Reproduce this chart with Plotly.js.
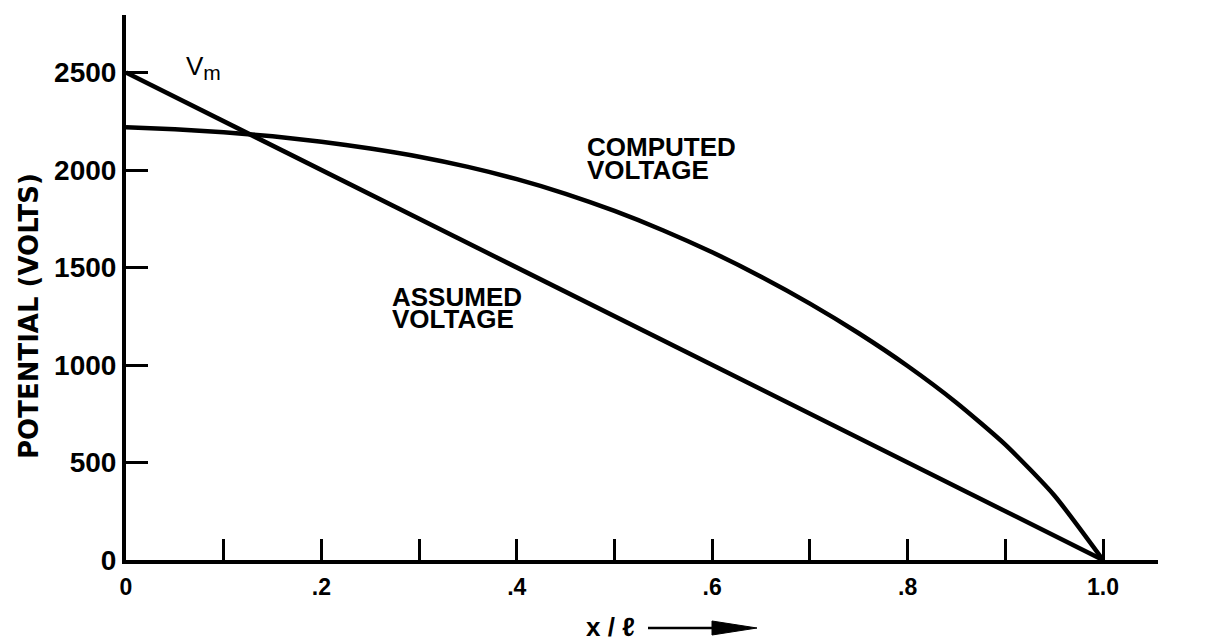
<!DOCTYPE html>
<html>
<head>
<meta charset="utf-8">
<script src="https://cdn.plot.ly/plotly-3.0.1.min.js"></script>
<style>
  html, body { margin: 0; padding: 0; background: #ffffff; }
  #chart { width: 1216px; height: 641px; }
</style>
</head>
<body>
<div id="chart"></div>
<script>
// x / l positions
const assumedX = [0, 1.0];
const assumedV = [2500, 0];

const computedX = [0, 0.05, 0.1, 0.15, 0.2, 0.25, 0.3, 0.35, 0.4, 0.45, 0.5, 0.55, 0.6, 0.65, 0.7, 0.75, 0.8, 0.85, 0.9, 0.95, 1.0];
const computedV = [2219, 2209, 2194, 2173, 2145, 2110, 2068, 2016, 1953, 1878, 1790, 1690, 1578, 1453, 1315, 1163, 995, 807, 592, 332, 0];

const xTickVals = [0, 0.2, 0.4, 0.6, 0.8, 1.0];
const xTickText = ['0', '.2', '.4', '.6', '.8', '1.0'];
const yTickVals = [0, 500, 1000, 1500, 2000, 2500];
const yTickText = ['0', '500', '1000', '1500', '2000', '2500'];

const FONT = 'Liberation Sans, Arial, Helvetica, sans-serif';
const WIDE = 'DejaVu Sans, Liberation Sans, sans-serif';

const traces = [
  {
    x: assumedX, y: assumedV, type: 'scatter', mode: 'lines',
    name: 'ASSUMED VOLTAGE',
    line: { color: '#000', width: 4.5 }
  },
  {
    x: computedX, y: computedV, type: 'scatter', mode: 'lines',
    name: 'COMPUTED VOLTAGE',
    line: { color: '#000', width: 4.5, shape: 'spline', smoothing: 0.6 }
  }
];

const labelFont = { family: FONT, size: 26, color: '#000', weight: 'bold' };

const layout = {
  width: 1216, height: 641,
  paper_bgcolor: '#fff', plot_bgcolor: '#fff',
  showlegend: false,
  margin: { l: 126, r: 58, t: 15, b: 81, pad: 0 },
  xaxis: {
    range: [0, 1.0563],
    showgrid: false, zeroline: false,
    showline: true, linecolor: '#000', linewidth: 4,
    ticks: 'inside', ticklen: 21, tickwidth: 3, tickcolor: '#000',
    tickmode: 'array', tickvals: xTickVals, ticktext: xTickText,
    tickfont: { family: FONT, size: 23, color: '#000', weight: 'bold' },
    ticklabelstandoff: 3,
    minor: { tickmode: 'linear', tick0: 0, dtick: 0.1, ticks: 'inside', ticklen: 21, tickwidth: 3, tickcolor: '#000', showgrid: false }
  },
  yaxis: {
    range: [0, 2795],
    showgrid: false, zeroline: false,
    showline: true, linecolor: '#000', linewidth: 4,
    ticks: 'inside', ticklen: 22, tickwidth: 3, tickcolor: '#000',
    tickmode: 'array', tickvals: yTickVals, ticktext: yTickText,
    tickfont: { family: FONT, size: 28, color: '#000', weight: 'bold' },
    ticklabelstandoff: 0
  },
  annotations: [
    { xref: 'paper', yref: 'paper', x: (29 - 126) / 1032, y: (560 - 316) / 545, xanchor: 'center', yanchor: 'middle',
      textangle: -90, text: 'POTENTIAL (VOLTS)', showarrow: false,
      font: { family: WIDE, size: 26, color: '#000', weight: 'bold' } },
    { xref: 'paper', yref: 'paper', x: (184 - 126) / 1032, y: (560 - 67) / 545, xanchor: 'left', yanchor: 'middle',
      text: 'V<sub><span style="font-size:21px">m</span></sub>', showarrow: false, font: { family: FONT, size: 26, color: '#000' } },
    { xref: 'paper', yref: 'paper', x: (585 - 126) / 1032, y: (560 - 147) / 545, xanchor: 'left', yanchor: 'middle',
      height: 22, text: 'COMPUTED', showarrow: false, font: labelFont },
    { xref: 'paper', yref: 'paper', x: (585 - 126) / 1032, y: (560 - 170) / 545, xanchor: 'left', yanchor: 'middle',
      height: 22, text: 'VOLTAGE', showarrow: false, font: labelFont },
    { xref: 'paper', yref: 'paper', x: (390 - 126) / 1032, y: (560 - 297) / 545, xanchor: 'left', yanchor: 'middle',
      height: 22, text: 'ASSUMED', showarrow: false, font: labelFont },
    { xref: 'paper', yref: 'paper', x: (390 - 126) / 1032, y: (560 - 319) / 545, xanchor: 'left', yanchor: 'middle',
      height: 22, text: 'VOLTAGE', showarrow: false, font: labelFont },
    { xref: 'paper', yref: 'paper', x: (610 - 126) / 1032, y: (560 - 627) / 545, xanchor: 'center', yanchor: 'middle',
      height: 26, text: 'x / ℓ', showarrow: false, font: { family: FONT, size: 26, color: '#000', weight: 'bold' } }
  ],
  shapes: [
    { type: 'path', xref: 'paper', yref: 'paper', xsizemode: 'pixel', ysizemode: 'pixel',
      xanchor: (648 - 126) / 1032, yanchor: 0,
      path: 'M0,-68 L70,-68', line: { color: '#000', width: 2.5 } },
    { type: 'path', xref: 'paper', yref: 'paper', xsizemode: 'pixel', ysizemode: 'pixel',
      xanchor: (648 - 126) / 1032, yanchor: 0,
      path: 'M64,-61 L109,-68 L64,-75 Z', fillcolor: '#000', line: { color: '#000', width: 1 } }
  ]
};

Plotly.newPlot('chart', traces, layout, { displayModeBar: false, staticPlot: true });
</script>
</body>
</html>
